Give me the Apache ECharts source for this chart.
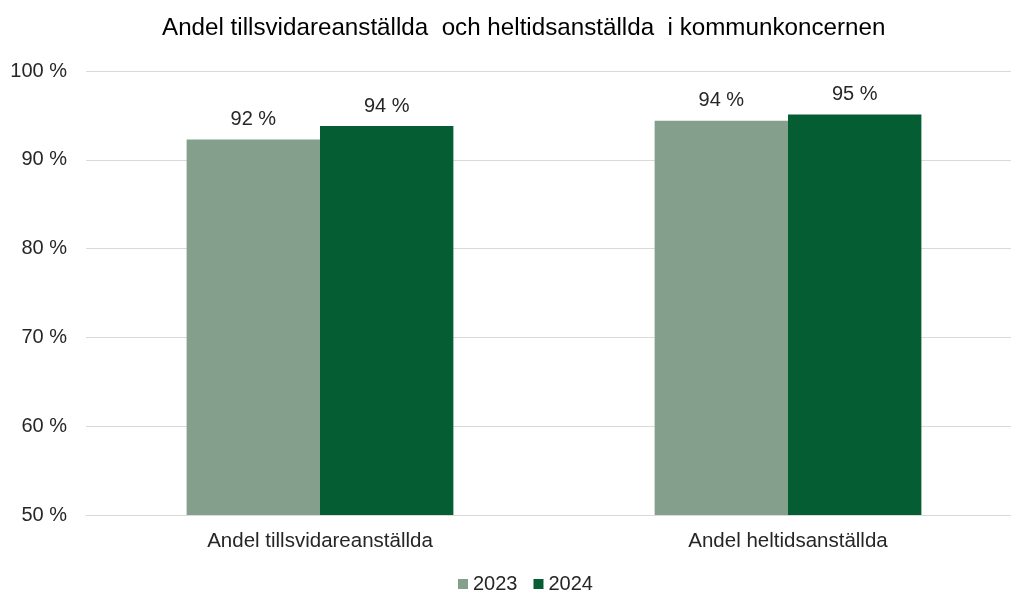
<!DOCTYPE html>
<html>
<head>
<meta charset="utf-8">
<script src="https://cdn.jsdelivr.net/npm/echarts@6/dist/echarts.min.js"></script>
<style>
  html, body { margin: 0; padding: 0; background: #fff; }
  #chart { width: 1011px; height: 593px; }
</style>
</head>
<body>
<div id="chart"></div>
<script>
const title = 'Andel tillsvidareanställda  och heltidsanställda  i kommunkoncernen'
const categories = ['Andel tillsvidareanställda', 'Andel heltidsanställda']
const seriesNames = ['2023', '2024']
const values2023 = [92.3, 94.4]
const values2024 = [93.8, 95.1]
const colors = ['#84a08c', '#055d33']

const chart = echarts.init(document.getElementById('chart'))
const font = 'Liberation Sans, Arial, sans-serif'

const barLabel = {
  show: true,
  position: 'top',
  distance: 10,
  color: '#262626',
  fontSize: 20,
  fontFamily: font,
  formatter: p => Math.round(p.value) + ' %'
}

chart.setOption({
  animation: false,
  title: {
    text: title,
    left: 157,
    top: 11,
    textStyle: { color: '#000', fontSize: 24.2, fontWeight: 'normal', fontFamily: font }
  },
  legend: {
    top: 569,
    left: 453,
    itemWidth: 10,
    itemHeight: 10,
    itemGap: 16,
    icon: 'rect',
    textStyle: { color: '#262626', fontSize: 20, fontFamily: font },
    data: seriesNames
  },
  grid: { left: 86, width: 936, top: 71, height: 444, outerBoundsMode: 'none', containLabel: false },
  xAxis: {
    type: 'category',
    data: categories,
    axisTick: { show: false },
    axisLine: { lineStyle: { color: '#d9d9d9' } },
    axisLabel: { color: '#262626', fontSize: 20.5, fontFamily: font, margin: 16 }
  },
  yAxis: {
    type: 'value',
    min: 50,
    max: 100,
    interval: 10,
    axisLine: { show: false },
    axisTick: { show: false },
    splitLine: { lineStyle: { color: '#d9d9d9', width: 1 } },
    axisLabel: {
      color: '#262626',
      fontSize: 20,
      fontFamily: font,
      margin: 19,
      formatter: v => v + ' %'
    }
  },
  series: [
    {
      name: seriesNames[0],
      type: 'bar',
      data: values2023,
      itemStyle: { color: colors[0] },
      barGap: '0%',
      barCategoryGap: '43%',
      label: barLabel
    },
    {
      name: seriesNames[1],
      type: 'bar',
      data: values2024,
      itemStyle: { color: colors[1] },
      barGap: '0%',
      barCategoryGap: '43%',
      label: barLabel
    }
  ]
})

window.addEventListener('resize', () => chart.resize())
</script>
</body>
</html>
